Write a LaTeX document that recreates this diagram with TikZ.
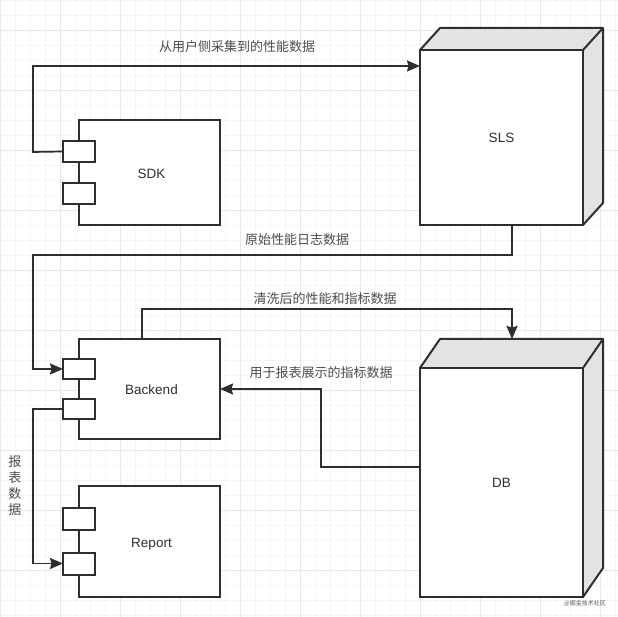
\documentclass[tikz,border=0pt]{standalone}
\usepackage{fontspec}
\setmainfont{Liberation Sans}
\newfontfamily\cjk{Noto Sans CJK SC}
\usetikzlibrary{arrows.meta}
\definecolor{inkc}{HTML}{2E2E2E}
\definecolor{shadec}{HTML}{E3E3E3}
\tikzset{
	box/.style={draw=inkc, line width=2pt, fill=white, rectangle, inner sep=0pt, outer sep=0pt, text=inkc, font=\fontsize{13.5}{13.5}\selectfont},
	port/.style={box, minimum width=32pt},
	face/.style={draw=inkc, line width=2pt, fill=shadec, line join=round},
	flow/.style={draw=inkc, line width=1.7pt, -{Stealth[length=13pt,width=11pt,inset=1.5pt]}},
	boxname/.style={text=inkc, inner sep=0pt, font=\fontsize{13.5}{13.5}\selectfont},
	flowlabel/.style={text=inkc!85, inner sep=0pt, font=\cjk\fontsize{13}{13}\selectfont}
}
\begin{document}
\begin{tikzpicture}[x=1pt, y=-1pt]
	\useasboundingbox (0,0) rectangle (618,617);
	\fill[white] (0,0) rectangle (618,617);
	%Gitter
	\foreach \x in {0,15,...,615}
		\draw[black!4, line width=0.8pt] (\x,0) -- (\x,617);
	\foreach \y in {0,15,...,615}
		\draw[black!4, line width=0.8pt] (0,\y) -- (618,\y);
	\foreach \x in {0,60,...,600}
		\draw[black!9, line width=0.7pt] (\x,0) -- (\x,617);
	\foreach \y in {30,90,...,610}
		\draw[black!9, line width=0.7pt] (0,\y) -- (618,\y);
	%
	%SDK
	\node[box, minimum width=141pt, minimum height=105pt, anchor=north west] (sdk) at (79,120) {};
	\node[boxname] (sdkText) at (151.5,173.5) {SDK};
	\node[port, minimum height=21pt] (sdkPortA) at (79,151.5) {};
	\node[port, minimum height=21pt] (sdkPortB) at (79,193.5) {};
	%
	%Backend
	\node[box, minimum width=141pt, minimum height=100pt, anchor=north west] (backend) at (79,339) {};
	\node[boxname] (backendText) at (151.5,389.5) {Backend};
	\node[port, minimum height=20pt] (backendPortA) at (79,369) {};
	\node[port, minimum height=20pt] (backendPortB) at (79,409) {};
	%
	%Report
	\node[box, minimum width=141pt, minimum height=111pt, anchor=north west] (report) at (79,486) {};
	\node[boxname] (reportText) at (151.5,544.5) {Report};
	\node[port, minimum height=22pt] (reportPortA) at (79,519) {};
	\node[port, minimum height=22pt] (reportPortB) at (79,563.5) {};
	%
	%SLS
	\draw[face] (420,50) -- (440,28) -- (603,28) -- (603,203) -- (583,225) -- cycle;
	\draw[face] (583,50) -- (603,28);
	\node[box, minimum width=163pt, minimum height=175pt, anchor=north west] (sls) at (420,50) {SLS};
	%
	%DB
	\draw[face] (420,368) -- (440,339) -- (603,339) -- (603,568) -- (583,597) -- cycle;
	\draw[face] (583,368) -- (603,339);
	\node[box, minimum width=163pt, minimum height=229pt, anchor=north west] (db) at (420,368) {DB};
	%
	%Pfeil SDK-SLS
	\coordinate (slsIn) at (420,66);
	\draw[flow] (sdkPortA.west) -- (33,152) |- (slsIn);
	\node[flowlabel] (userText) at (237,46.5) {从用户侧采集到的性能数据};
	%
	%Pfeil SLS-Backend
	\coordinate (slsOut) at (512,225);
	\draw[flow] (slsOut) |- (33,255) |- (backendPortA.west);
	\node[flowlabel] (rawText) at (297,239.5) {原始性能日志数据};
	%
	%Pfeil Backend-DB
	\coordinate (backendOut) at (142,339);
	\coordinate (dbIn) at (512,339);
	\draw[flow] (backendOut) -- (142,309) -- (512,309) -- (dbIn);
	\node[flowlabel] (cleanText) at (325,298.5) {清洗后的性能和指标数据};
	%
	%Pfeil DB-Backend
	\coordinate (dbOut) at (420,467);
	\coordinate (backendIn) at (220,389);
	\draw[flow] (dbOut) -- (321,467) -- (321,389) -- (backendIn);
	\node[flowlabel] (metricText) at (321,372.5) {用于报表展示的指标数据};
	%
	%Pfeil Backend-Report
	\draw[flow] (backendPortB.west) -- (33,409) |- (reportPortB.west);
	\node[flowlabel, align=center, font=\cjk\fontsize{13}{16}\selectfont] (reportData) at (15,486) {报\\表\\数\\据};
	%
	%Wasserzeichen
	\node[text=black!65, inner sep=0pt, font=\cjk\fontsize{6}{6}\selectfont] (mark) at (585,603) {@掘金技术社区};
\end{tikzpicture}
\end{document}
